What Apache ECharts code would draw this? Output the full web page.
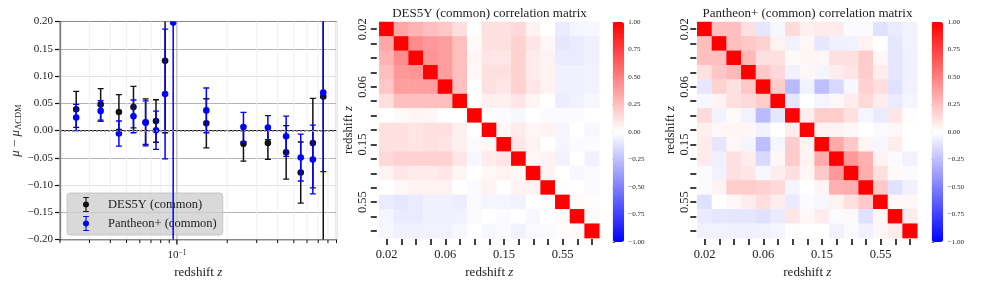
<!DOCTYPE html>
<html><head><meta charset="utf-8">
<script src="https://cdn.jsdelivr.net/npm/echarts@6/dist/echarts.min.js"></script>
<style>html,body{margin:0;padding:0;background:#fff}#c{width:981px;height:284px}</style>
</head><body><div id="c"></div>
<script>
// ---------- data ----------
const zBins = [0.025,0.035,0.045,0.055,0.065,0.075,0.085,0.095,0.15,0.25,0.35,0.45,0.55,0.65,0.75];
const heatLabels = ['0.02','0.03','0.04','0.05','0.06','0.07','0.08','0.09','0.15','0.25','0.35','0.45','0.55','0.65','0.75'];
const desMu  = [0.039,0.048,0.034,0.043,0.015,0.0175,0.128,null,0.0133,-0.024,-0.023,-0.040,-0.077,-0.023,0.0624];
const desErr = [0.033,0.029,0.032,0.038,0.043,0.039,0.132,null,0.045,0.032,0.030,0.049,0.056,0.082,0.30];
const panMu  = [0.024,0.036,-0.0055,0.026,0.0145,0.0005,0.067,0.198,0.037,0.0065,0.0055,-0.0105,-0.0495,-0.053,0.0695];
const panErr = [0.024,0.019,0.023,0.030,0.040,0.035,0.119,0.45,0.041,0.027,0.022,0.037,0.043,0.063,0.145];
const minorTicksX = [0.02,0.03,0.04,0.05,0.06,0.07,0.08,0.09,0.2,0.3,0.4,0.5,0.6,0.7,0.8,0.9];
const majorTicksX = [0.1];
const yTickStep = 0.05;
const cbarTickStep = 0.25;

const desCorr = [
 [1.00,0.35,0.30,0.25,0.22,0.13,0.00,0.12,0.12,0.15,0.05,0.00,-0.08,-0.04,-0.03],
 [0.35,1.00,0.45,0.40,0.38,0.25,0.02,0.12,0.12,0.18,0.10,0.03,-0.10,-0.08,-0.06],
 [0.30,0.45,1.00,0.42,0.38,0.25,0.04,0.10,0.10,0.18,0.08,0.05,-0.08,-0.08,-0.06],
 [0.25,0.40,0.42,1.00,0.38,0.25,0.03,0.12,0.12,0.18,0.08,0.05,-0.06,-0.06,-0.05],
 [0.22,0.38,0.38,0.38,1.00,0.25,0.00,0.12,0.10,0.18,0.10,0.05,-0.06,-0.06,-0.05],
 [0.13,0.25,0.25,0.25,0.25,1.00,0.00,0.06,0.06,0.10,0.04,0.00,-0.07,-0.05,-0.03],
 [0.00,0.02,0.04,0.03,0.00,0.00,1.00,0.00,-0.02,-0.03,0.00,-0.02,-0.02,-0.02,0.00],
 [0.12,0.12,0.10,0.12,0.12,0.06,0.00,1.00,0.03,0.08,0.03,0.05,-0.04,0.00,-0.03],
 [0.12,0.12,0.10,0.12,0.10,0.06,-0.02,0.03,1.00,0.10,0.05,0.00,-0.04,-0.02,-0.02],
 [0.15,0.18,0.18,0.18,0.18,0.10,-0.03,0.08,0.10,1.00,0.03,0.05,-0.05,0.00,-0.05],
 [0.05,0.10,0.08,0.08,0.10,0.04,0.00,0.03,0.05,0.03,1.00,0.05,0.00,-0.03,-0.02],
 [0.00,0.03,0.05,0.05,0.05,0.00,-0.02,0.05,0.00,0.05,0.05,1.00,0.01,0.00,-0.02],
 [-0.08,-0.10,-0.08,-0.06,-0.06,-0.07,-0.02,-0.04,-0.04,-0.05,0.00,0.01,1.00,0.02,0.01],
 [-0.04,-0.08,-0.08,-0.06,-0.06,-0.05,-0.02,0.00,-0.02,0.00,-0.03,0.00,0.02,1.00,0.02],
 [-0.03,-0.06,-0.06,-0.05,-0.05,-0.03,0.00,-0.03,-0.02,-0.05,-0.02,-0.02,0.01,0.02,1.00]
];
const panCorr = [
 [1.00,0.25,0.25,0.12,-0.10,-0.03,0.14,0.06,0.08,0.08,-0.02,-0.02,-0.12,-0.08,-0.05],
 [0.25,1.00,0.25,0.22,0.18,0.05,-0.05,0.03,-0.10,-0.06,-0.05,0.05,0.00,-0.10,-0.05],
 [0.25,0.25,1.00,0.28,0.12,0.12,0.02,0.04,0.03,0.12,0.12,0.20,0.03,-0.10,-0.06],
 [0.12,0.22,0.28,1.00,0.22,0.15,-0.05,0.03,-0.04,0.07,0.10,0.20,0.07,-0.10,-0.06],
 [-0.10,0.18,0.12,0.22,1.00,0.20,-0.27,-0.05,-0.25,-0.15,-0.03,0.18,0.13,-0.12,-0.05],
 [-0.03,0.05,0.12,0.15,0.20,1.00,-0.10,0.00,-0.04,0.03,0.07,0.15,0.07,-0.08,-0.04],
 [0.14,-0.05,0.02,-0.05,-0.27,-0.10,1.00,0.07,0.20,0.20,0.12,-0.04,-0.08,0.10,0.01],
 [0.06,0.03,0.04,0.03,-0.05,0.00,0.07,1.00,0.05,0.05,0.03,0.00,-0.02,0.03,0.00],
 [0.08,-0.10,0.03,-0.04,-0.25,-0.04,0.20,0.05,1.00,0.33,0.21,0.04,-0.03,0.07,0.00],
 [0.08,-0.06,0.12,0.07,-0.15,0.03,0.20,0.05,0.33,1.00,0.40,0.31,0.05,-0.02,-0.05],
 [-0.02,-0.05,0.12,0.10,-0.03,0.07,0.12,0.03,0.21,0.40,1.00,0.32,0.12,0.02,-0.02],
 [-0.02,0.05,0.20,0.20,0.18,0.15,-0.04,0.00,0.04,0.31,0.32,1.00,0.22,-0.12,-0.06],
 [-0.12,0.00,0.03,0.07,0.13,0.07,-0.08,-0.02,-0.03,0.05,0.12,0.22,1.00,0.03,0.03],
 [-0.08,-0.10,-0.10,-0.10,-0.12,-0.08,0.10,0.03,0.07,-0.02,0.02,-0.12,0.03,1.00,0.08],
 [-0.05,-0.05,-0.06,-0.06,-0.05,-0.04,0.01,0.00,0.00,-0.05,-0.02,-0.06,0.03,0.08,1.00]
];

// ---------- build ----------
const SERIF = '"Liberation Serif", "DejaVu Serif", serif';
const TXT = '#222';
function errData(mu, err) {
  const out = [];
  zBins.forEach((z, i) => { if (mu[i] !== null) out.push([z, mu[i], err[i]]); });
  return out;
}
function heatData(m) {
  const out = [];
  m.forEach((row, i) => row.forEach((v, j) => out.push([j, i, v])));
  return out;
}
function errRender(color) {
  return function (params, api) {
    const x = api.value(0), y = api.value(1), e = api.value(2);
    const p = api.coord([x, y]);
    const t = api.coord([x, y + e]);
    const b = api.coord([x, y - e]);
    const cw = 3;
    return {type: 'group', children: [
      {type: 'line', shape: {x1: p[0], y1: t[1], x2: p[0], y2: b[1]}, style: {stroke: color, lineWidth: 1.5}},
      {type: 'line', shape: {x1: p[0] - cw, y1: t[1], x2: p[0] + cw, y2: t[1]}, style: {stroke: color, lineWidth: 1.3}},
      {type: 'line', shape: {x1: p[0] - cw, y1: b[1], x2: p[0] + cw, y2: b[1]}, style: {stroke: color, lineWidth: 1.3}},
      {type: 'circle', shape: {cx: p[0], cy: p[1], r: 3.3}, style: {fill: color}}
    ]};
  };
}
const tickData = minorTicksX.map(v => [v, 0]).concat(majorTicksX.map(v => [v, 1]));
const fmt2 = v => Math.abs(v) < 1e-9 ? '0.00' : (v < 0 ? '\u2212' : '') + Math.abs(v).toFixed(2);
const heatFmt = (v, i) => (i % 4 === 0 ? v : '');
const ICON = 'path://M0,0H6V1H0Z M2.4,0H3.6V16H2.4Z M0,15H6V16H0Z M6.2,8A3.2,3.2,0,1,1,-0.2,8A3.2,3.2,0,1,1,6.2,8Z';

function heatXAxis(gi) {
  return {type: 'category', gridIndex: gi, data: heatLabels, position: 'bottom', offset: 1,
    axisLine: {show: false},
    axisTick: {show: true, alignWithLabel: true, interval: 0, length: 6, lineStyle: {color: '#111', width: 1.6}},
    axisLabel: {interval: 0, formatter: heatFmt, fontSize: 12.5, fontFamily: SERIF, color: TXT, margin: 9},
    splitLine: {show: false},
    name: 'redshift {i|z}', nameLocation: 'middle', nameGap: 21,
    nameTextStyle: {fontSize: 13, fontFamily: SERIF, color: TXT, rich: {i: {fontStyle: 'italic', fontSize: 13, fontFamily: SERIF, color: TXT}}}
  };
}
function heatYAxis(gi, off, lm, ng) {
  return {type: 'category', gridIndex: gi, data: heatLabels, inverse: true, position: 'left', offset: off,
    axisLine: {show: false},
    axisTick: {show: true, alignWithLabel: true, interval: 0, length: 6, lineStyle: {color: '#111', width: 1.6}},
    axisLabel: {interval: 0, formatter: heatFmt, rotate: 90, fontSize: 12.5, fontFamily: SERIF, color: TXT, margin: lm},
    splitLine: {show: false},
    name: 'redshift {i|z}', nameLocation: 'middle', nameGap: ng, nameRotate: 90,
    nameTextStyle: {fontSize: 13, fontFamily: SERIF, color: TXT, rich: {i: {fontStyle: 'italic', fontSize: 13, fontFamily: SERIF, color: TXT}}}
  };
}
function cbarYAxis(gi) {
  return {type: 'value', gridIndex: gi, min: -1, max: 1, interval: cbarTickStep, position: 'right',
    axisLine: {show: false}, splitLine: {show: false},
    axisTick: {show: true, length: 2.5, lineStyle: {color: '#333', width: 0.8}},
    axisLabel: {fontSize: 7, fontFamily: SERIF, color: TXT, margin: 4, formatter: fmt2}
  };
}
function visual(si, left) {
  return {type: 'continuous', seriesIndex: si, min: -1, max: 1, calculable: false, hoverLink: false,
    orient: 'vertical', left: left, top: 22, padding: 0, itemWidth: 11.5, itemHeight: 220, text: null,
    inRange: {color: ['#0000ff', '#ffffff', '#ff0000']}};
}

const option = {
  animation: false,
  backgroundColor: '#fff',
  title: [
    {text: 'DES5Y (common) correlation matrix', left: 489.5, top: 7, textAlign: 'center', padding: 0,
     textStyle: {fontSize: 13, fontWeight: 'normal', fontFamily: SERIF, color: TXT}},
    {text: 'Pantheon+ (common) correlation matrix', left: 807.5, top: 7, textAlign: 'center', padding: 0,
     textStyle: {fontSize: 13, fontWeight: 'normal', fontFamily: SERIF, color: TXT}}
  ],
  legend: {
    data: [{name: 'DES5Y (common)', icon: ICON}, {name: 'Pantheon+ (common)', icon: ICON}],
    orient: 'vertical', left: 67, top: 193, padding: [4, 6, 4, 16], itemGap: 4,
    itemWidth: 34, itemHeight: 15, selectedMode: false,
    backgroundColor: 'rgba(206,206,206,0.78)', borderColor: 'rgba(190,190,190,0.8)', borderWidth: 1, borderRadius: 3,
    textStyle: {fontSize: 12.5, fontFamily: SERIF, color: TXT}
  },
  grid: [
    {left: 60, top: 21.5, width: 276.5, height: 220.5, show: true, borderColor: '#222', borderWidth: 1.2, backgroundColor: 'transparent'},
    {left: 379.3, top: 22, width: 220, height: 220},
    {left: 612.7, top: 22, width: 11.5, height: 220},
    {left: 697.3, top: 22, width: 220, height: 220},
    {left: 931.7, top: 22, width: 12, height: 220}
  ],
  xAxis: [
    {type: 'log', logBase: 10, gridIndex: 0, min: 0.02, max: 0.9,
     axisLine: {show: true, lineStyle: {color: '#111', width: 1.2}},
     axisTick: {show: false}, splitLine: {show: false}, minorTick: {show: false},
     axisLabel: {fontSize: 11, fontFamily: SERIF, color: TXT, margin: 9, showMinLabel: false, showMaxLabel: false,
       formatter: v => (Math.abs(v - 0.1) < 1e-9 ? '{b|10}{s|\u22121}' : ''),
       rich: {b: {fontSize: 11, fontFamily: SERIF, color: TXT}, s: {fontSize: 7.5, fontFamily: SERIF, color: TXT, verticalAlign: 'top', padding: [0, 0, 6, 0]}}},
     name: 'redshift {i|z}', nameLocation: 'middle', nameGap: 21,
     nameTextStyle: {fontSize: 13, fontFamily: SERIF, color: TXT, rich: {i: {fontStyle: 'italic', fontSize: 13, fontFamily: SERIF, color: TXT}}}},
    heatXAxis(1),
    {type: 'value', gridIndex: 2, show: false, min: 0, max: 1},
    heatXAxis(3),
    {type: 'value', gridIndex: 4, show: false, min: 0, max: 1}
  ],
  yAxis: [
    {type: 'value', gridIndex: 0, min: -0.2, max: 0.2, interval: yTickStep,
     axisLine: {show: true, lineStyle: {color: '#111', width: 1.2}},
     axisTick: {show: true, length: 5, lineStyle: {color: '#111', width: 1.2}},
     axisLabel: {fontSize: 11, fontFamily: SERIF, color: TXT, margin: 7, formatter: fmt2},
     splitLine: {show: true, lineStyle: {width: 1.1, color: ['#888', '#b4b4b4', '#e2e2e2', '#b4b4b4', '#b4b4b4', '#b4b4b4', '#e2e2e2', '#b4b4b4', '#888']}},
     name: '{i|\u03bc} \u2212 {i|\u03bc}{s|\u039bCDM}', nameLocation: 'middle', nameGap: 37, nameRotate: 90,
     nameTextStyle: {fontSize: 13, fontFamily: SERIF, color: TXT,
       rich: {i: {fontStyle: 'italic', fontSize: 13, fontFamily: SERIF, color: TXT}, s: {fontSize: 8.5, fontFamily: SERIF, color: TXT, verticalAlign: 'bottom', padding: [5, 0, 0, 0]}}}},
    heatYAxis(1, 2.5, 8, 20),
    cbarYAxis(2),
    heatYAxis(3, 1, 5, 18),
    cbarYAxis(4)
  ],
  visualMap: [visual(3, 612.7), visual(4, 931.7)],
  series: [
    {type: 'custom', name: 'ticks', xAxisIndex: 0, yAxisIndex: 0, z: 1, clip: false, silent: true,
     data: tickData,
     renderItem: function (params, api) {
       const v = api.value(0), major = api.value(1) === 1;
       const cs = params.coordSys;
       const p = api.coord([v, 0]);
       const bottom = cs.y + cs.height;
       return {type: 'group', children: [
         {type: 'line', shape: {x1: p[0], y1: cs.y, x2: p[0], y2: bottom}, style: {stroke: major ? '#b4b4b4' : '#f0f0f0', lineWidth: major ? 1.1 : 1}},
         {type: 'line', shape: {x1: p[0], y1: bottom, x2: p[0], y2: bottom + (major ? 5 : 3.5)}, style: {stroke: '#111', lineWidth: major ? 1.3 : 1}}
       ]};
     },
     markLine: {silent: true, symbol: ['none', 'none'], label: {show: false},
       lineStyle: {color: '#8a8a8a', type: [2, 2], width: 1.5}, data: [{yAxis: 0}]}},
    {type: 'custom', name: 'DES5Y (common)', xAxisIndex: 0, yAxisIndex: 0, z: 3, clip: true,
     itemStyle: {color: '#111'}, data: errData(desMu, desErr), renderItem: errRender('#111')},
    {type: 'custom', name: 'Pantheon+ (common)', xAxisIndex: 0, yAxisIndex: 0, z: 4, clip: true,
     itemStyle: {color: '#0000ff'}, data: errData(panMu, panErr), renderItem: errRender('#0000ff')},
    {type: 'heatmap', xAxisIndex: 1, yAxisIndex: 1, data: heatData(desCorr), silent: true},
    {type: 'heatmap', xAxisIndex: 3, yAxisIndex: 3, data: heatData(panCorr), silent: true}
  ]
};
const chart = echarts.init(document.getElementById('c'), null, {renderer: 'canvas'});
chart.setOption(option);
</script>
</body></html>
